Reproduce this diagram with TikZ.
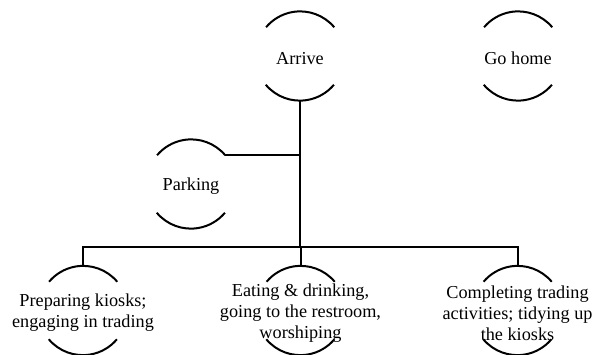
\documentclass[tikz,border=0pt]{standalone}
\usepackage{fontspec}
\setmainfont{Liberation Serif}
\begin{document}
\begin{tikzpicture}[x=1bp,y=1bp,
  ring/.style={circle,minimum size=89bp,inner sep=0pt},
  lbl/.style={align=center,inner sep=0pt,yshift=-2.5bp,font=\fontsize{18.3}{21}\selectfont},
  arcline/.style={line width=2bp},
  conn/.style={line width=2bp}]
\useasboundingbox (0,0) rectangle (592,354);
% rings
\node[ring] (arrive) at (300,298) {};
\node[ring] (home) at (518,298) {};
\node[ring] (park) at (191,170) {};
\node[ring] (prep) at (83,43.5) {};
\node[ring] (eat) at (300.5,43.5) {};
\node[ring] (comp) at (517.5,43.5) {};
\foreach \n in {arrive,home,park,prep,eat,comp}{
  \draw[arcline] (\n.40) arc[start angle=40,end angle=140,radius=44.5bp];
  \draw[arcline] (\n.220) arc[start angle=220,end angle=320,radius=44.5bp];
}
% labels
\node[lbl] (arrive-t) at (arrive) {Arrive};
\node[lbl] (home-t) at (home) {Go home};
\node[lbl] (park-t) at (park) {Parking};
\node[lbl] (prep-t) at (prep) {Preparing kiosks;\\engaging in trading};
\node[lbl] (eat-t) at (eat) {Eating \& drinking,\\going to the restroom,\\worshiping};
\node[lbl] (comp-t) at (comp) {Completing trading\\activities; tidying up\\the kiosks};
% connectors
\coordinate (bus) at (300.5,106.7);
\draw[conn] (arrive.south) -- (arrive.south |- bus);
\draw[conn] (park.40) -- (arrive.south |- park.40);
\draw[conn] (prep.north) |- (bus) -| (comp.north);
\draw[conn] (eat.north) -- (eat.north |- bus);
\end{tikzpicture}
\end{document}
